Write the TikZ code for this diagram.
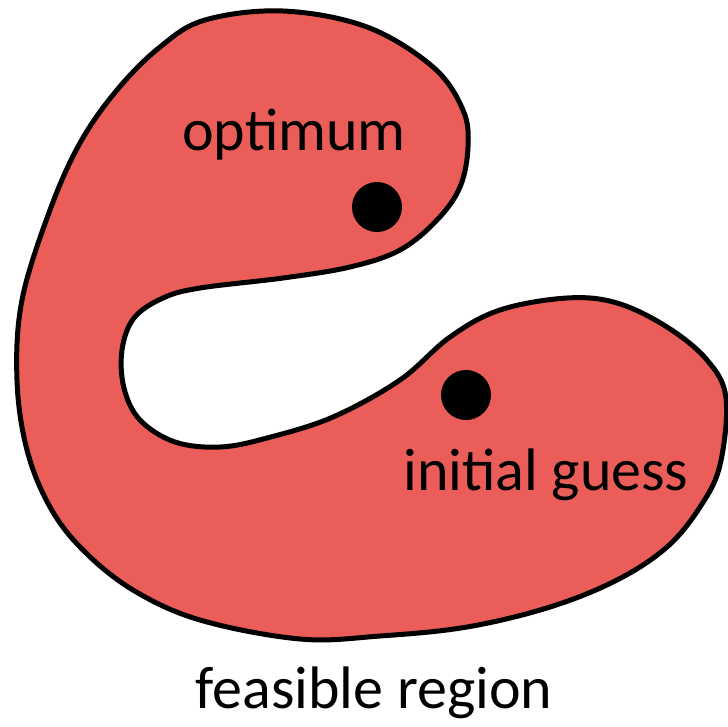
\documentclass[tikz,border=0pt]{standalone}
\usepackage{fontspec}
\setmainfont{Carlito}
\definecolor{regionred}{RGB}{235,93,88}
\begin{document}
\begin{tikzpicture}[x=1pt,y=-1pt,
  lbl/.style={inner sep=0pt,anchor=base,font=\fontsize{60}{72}\selectfont},
  dot/.style={circle,fill=black,inner sep=0pt,minimum size=50pt}]
\useasboundingbox (0,0) rectangle (728,726);
\draw[line width=5pt,fill=regionred,line join=round] plot[smooth cycle,tension=0.6] coordinates {
 (283,11) (367,27) (433,67) (463,110) (468,147) (460,187) (437,220) (400,250)
 (350,267) (283,278) (200,288) (163,298) (134,318) (122,350) (124,388) (140,420)
 (175,442) (220,447) (267,438) (333,417) (400,380) (450,337) (500,310) (567,298) (617,303)
 (667,327) (707,360) (726,398) (720,465) (700,507) (667,547) (617,580) (550,607)
 (467,627) (380,636) (300,639) (200,620) (133,590) (83,550) (50,507) (27,450)
 (17,380) (22,300) (50,210) (80,143) (117,90) (160,47) (205,20)};
\node[dot] (opt) at (377,207) {};
\node[dot] (init) at (466,395) {};
\node[lbl] (optlbl) at (294,150) {optimum};
\node[lbl] (initlbl) at (546,490) {initial guess};
\node[lbl] (feas) at (374,708) {feasible region};
\end{tikzpicture}
\end{document}
